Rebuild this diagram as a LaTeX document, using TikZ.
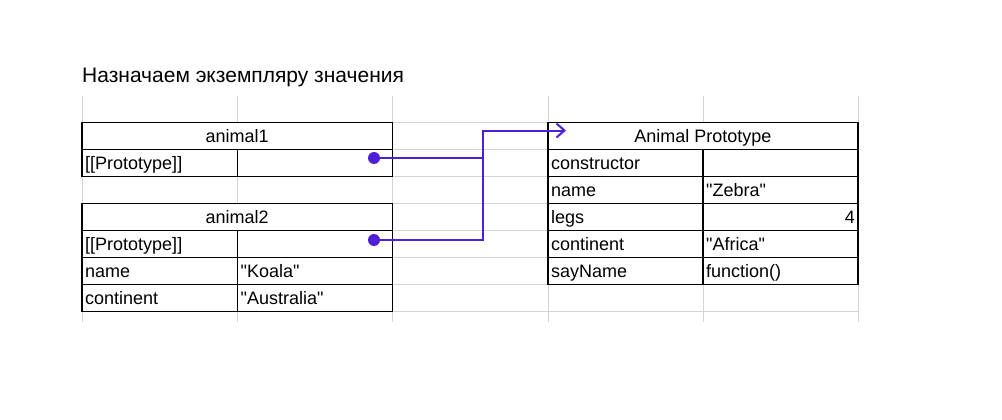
\documentclass[tikz,border=0pt]{standalone}
\usepackage{fontspec}
\setmainfont{Liberation Sans}
\usetikzlibrary{arrows.meta}
\definecolor{gridgray}{RGB}{212,212,212}
\definecolor{linkblue}{RGB}{77,31,214}

\begin{document}
\begin{tikzpicture}[x=1pt,y=-1pt,
  gridline/.style={gridgray,line width=1pt},
  cellbox/.style={draw=black,fill=white,line width=1.2pt},
  celltext/.style={anchor=base west,inner sep=0pt,font=\fontsize{18}{21}\selectfont},
  valtext/.style={anchor=base east,inner sep=0pt,font=\fontsize{18}{21}\selectfont},
  headtext/.style={anchor=base,inner sep=0pt,font=\fontsize{18}{21}\selectfont},
  link/.style={linkblue,line width=2pt},
  dot/.style={circle,fill=linkblue,inner sep=0pt,minimum size=12pt}]

\useasboundingbox (0,0) rectangle (1002,420);

% sheet grid
\foreach \x in {82,237.5,392.5,548,703,858}
  \draw[gridline] (\x,96) -- (\x,322);
\foreach \y in {122.5,149.5,176.5,203.5,230.5,257.5,284.5,311.5}
  \draw[gridline] (82,\y) -- (858,\y);

\node[celltext,font=\fontsize{21}{24}\selectfont] (title) at (82,83) {Назначаем экземпляру значения};

% animal1
\draw[cellbox] (82,122.5) rectangle (392.5,149.5);
\draw[cellbox] (82,149.5) rectangle (237.5,176.5);
\draw[cellbox] (237.5,149.5) rectangle (392.5,176.5);
\node[headtext] (a1head) at (237.25,142.5) {animal1};
\node[celltext] (a1proto) at (85,169.5) {[[Prototype]]};
\node[dot] (a1dot) at (374,158) {};

% animal2
\draw[cellbox] (82,203.5) rectangle (392.5,230.5);
\foreach \y in {230.5,257.5,284.5} {
  \draw[cellbox] (82,\y) rectangle (237.5,\y+27);
  \draw[cellbox] (237.5,\y) rectangle (392.5,\y+27);
}
\node[headtext] (a2head) at (237.25,223.5) {animal2};
\node[celltext] (a2proto) at (85,250.5) {[[Prototype]]};
\node[celltext] (a2name) at (85,277.5) {name};
\node[celltext] (a2namev) at (240.5,277.5) {\textquotedbl Koala\textquotedbl};
\node[celltext] (a2cont) at (85,304.5) {continent};
\node[celltext] (a2contv) at (240.5,304.5) {\textquotedbl Australia\textquotedbl};
\node[dot] (a2dot) at (374,240) {};

% Animal Prototype
\draw[cellbox] (548,122.5) rectangle (858,149.5);
\foreach \y in {149.5,176.5,203.5,230.5,257.5} {
  \draw[cellbox] (548,\y) rectangle (703,\y+27);
  \draw[cellbox] (703,\y) rectangle (858,\y+27);
}
\node[headtext] (phead) at (703,142.5) {Animal Prototype};
\node[celltext] (pcons) at (551,169.5) {constructor};
\node[celltext] (pname) at (551,196.5) {name};
\node[celltext] (pnamev) at (706,196.5) {\textquotedbl Zebra\textquotedbl};
\node[celltext] (plegs) at (551,223.5) {legs};
\node[valtext] (plegsv) at (855,223.5) {4};
\node[celltext] (pcont) at (551,250.5) {continent};
\node[celltext] (pcontv) at (706,250.5) {\textquotedbl Africa\textquotedbl};
\node[celltext] (psay) at (551,277.5) {sayName};
\node[celltext] (psayv) at (706,277.5) {function()};

% prototype links
\coordinate (join) at (483,158);
\coordinate (turn) at (483,130.5);
\coordinate (tip) at (566,130.5);
\draw[link] (a1dot.center) -- (join);
\draw[link,-{Straight Barb[length=8pt,width=14pt]}] (a2dot.center) -| (turn) -- (tip);
\end{tikzpicture}
\end{document}
